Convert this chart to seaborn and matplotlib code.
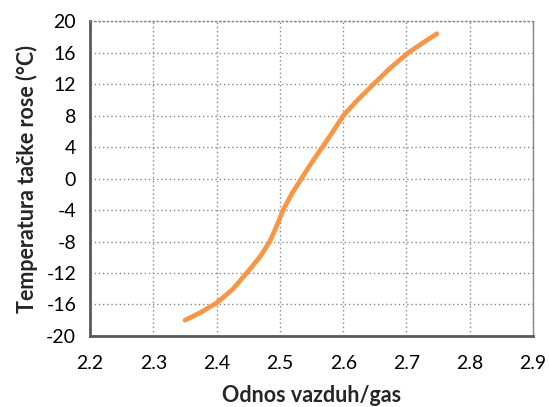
import matplotlib
matplotlib.use("Agg")
import matplotlib.pyplot as plt
import seaborn as sns
import pandas as pd

ratio = [2.35, 2.375, 2.40, 2.425, 2.4475, 2.468, 2.484, 2.495, 2.505, 2.519, 2.534, 2.550, 2.567, 2.584, 2.600, 2.623, 2.648, 2.675, 2.703, 2.725, 2.748]
temp = [-18.0, -17.0, -15.8, -14.1, -12.0, -10.0, -8.0, -6.0, -4.0, -1.9, 0.0, 2.0, 4.0, 6.0, 8.0, 10.0, 12.0, 14.1, 16.0, 17.2, 18.4]
xticks = [2.2, 2.3, 2.4, 2.5, 2.6, 2.7, 2.8, 2.9]
yticks = [-20, -16, -12, -8, -4, 0, 4, 8, 12, 16, 20]

df = pd.DataFrame({"x": ratio, "y": temp})

sns.set_theme(style="white")
plt.rcParams['font.family'] = ['Lato', 'DejaVu Sans']

fig = plt.figure(figsize=(5.49, 4.07), dpi=100)
ax = fig.add_axes([0.164, 0.1745, 0.807, 0.7735])

sns.lineplot(data=df, x="x", y="y", ax=ax, color="#F79646", linewidth=3.4,
             sort=False, solid_capstyle="round", solid_joinstyle="round")

ax.set_xlim(2.2, 2.9)
ax.set_ylim(-20, 20)
ax.set_xticks(xticks)
ax.set_xticklabels([f"{v:.1f}" for v in xticks])
ax.set_yticks(yticks)
ax.set_yticklabels([str(v) for v in yticks])
ax.grid(True, linestyle=(0, (1, 2)), color="#888888", linewidth=1.0)
ax.tick_params(axis="both", which="major", direction="out", length=5, width=1.5,
               color="#595959", labelsize=14, labelcolor="#000000", pad=5)
ax.tick_params(axis="x", pad=9)

for s in ["left", "bottom"]:
    ax.spines[s].set_color("#595959")
    ax.spines[s].set_linewidth(2)
ax.spines["right"].set_color("#888888")
ax.spines["right"].set_linewidth(1)
ax.spines["top"].set_color("#888888")
ax.spines["top"].set_linewidth(1)
ax.spines["top"].set_linestyle((0, (1, 2)))

ax.set_xlabel("Odnos vazduh/gas", fontsize=15.5, fontweight="bold", labelpad=9)
ax.set_ylabel("Temperatura tačke rose (°C)", fontsize=15.5, fontweight="bold", labelpad=6)

fig.savefig("out.png", dpi=100)
